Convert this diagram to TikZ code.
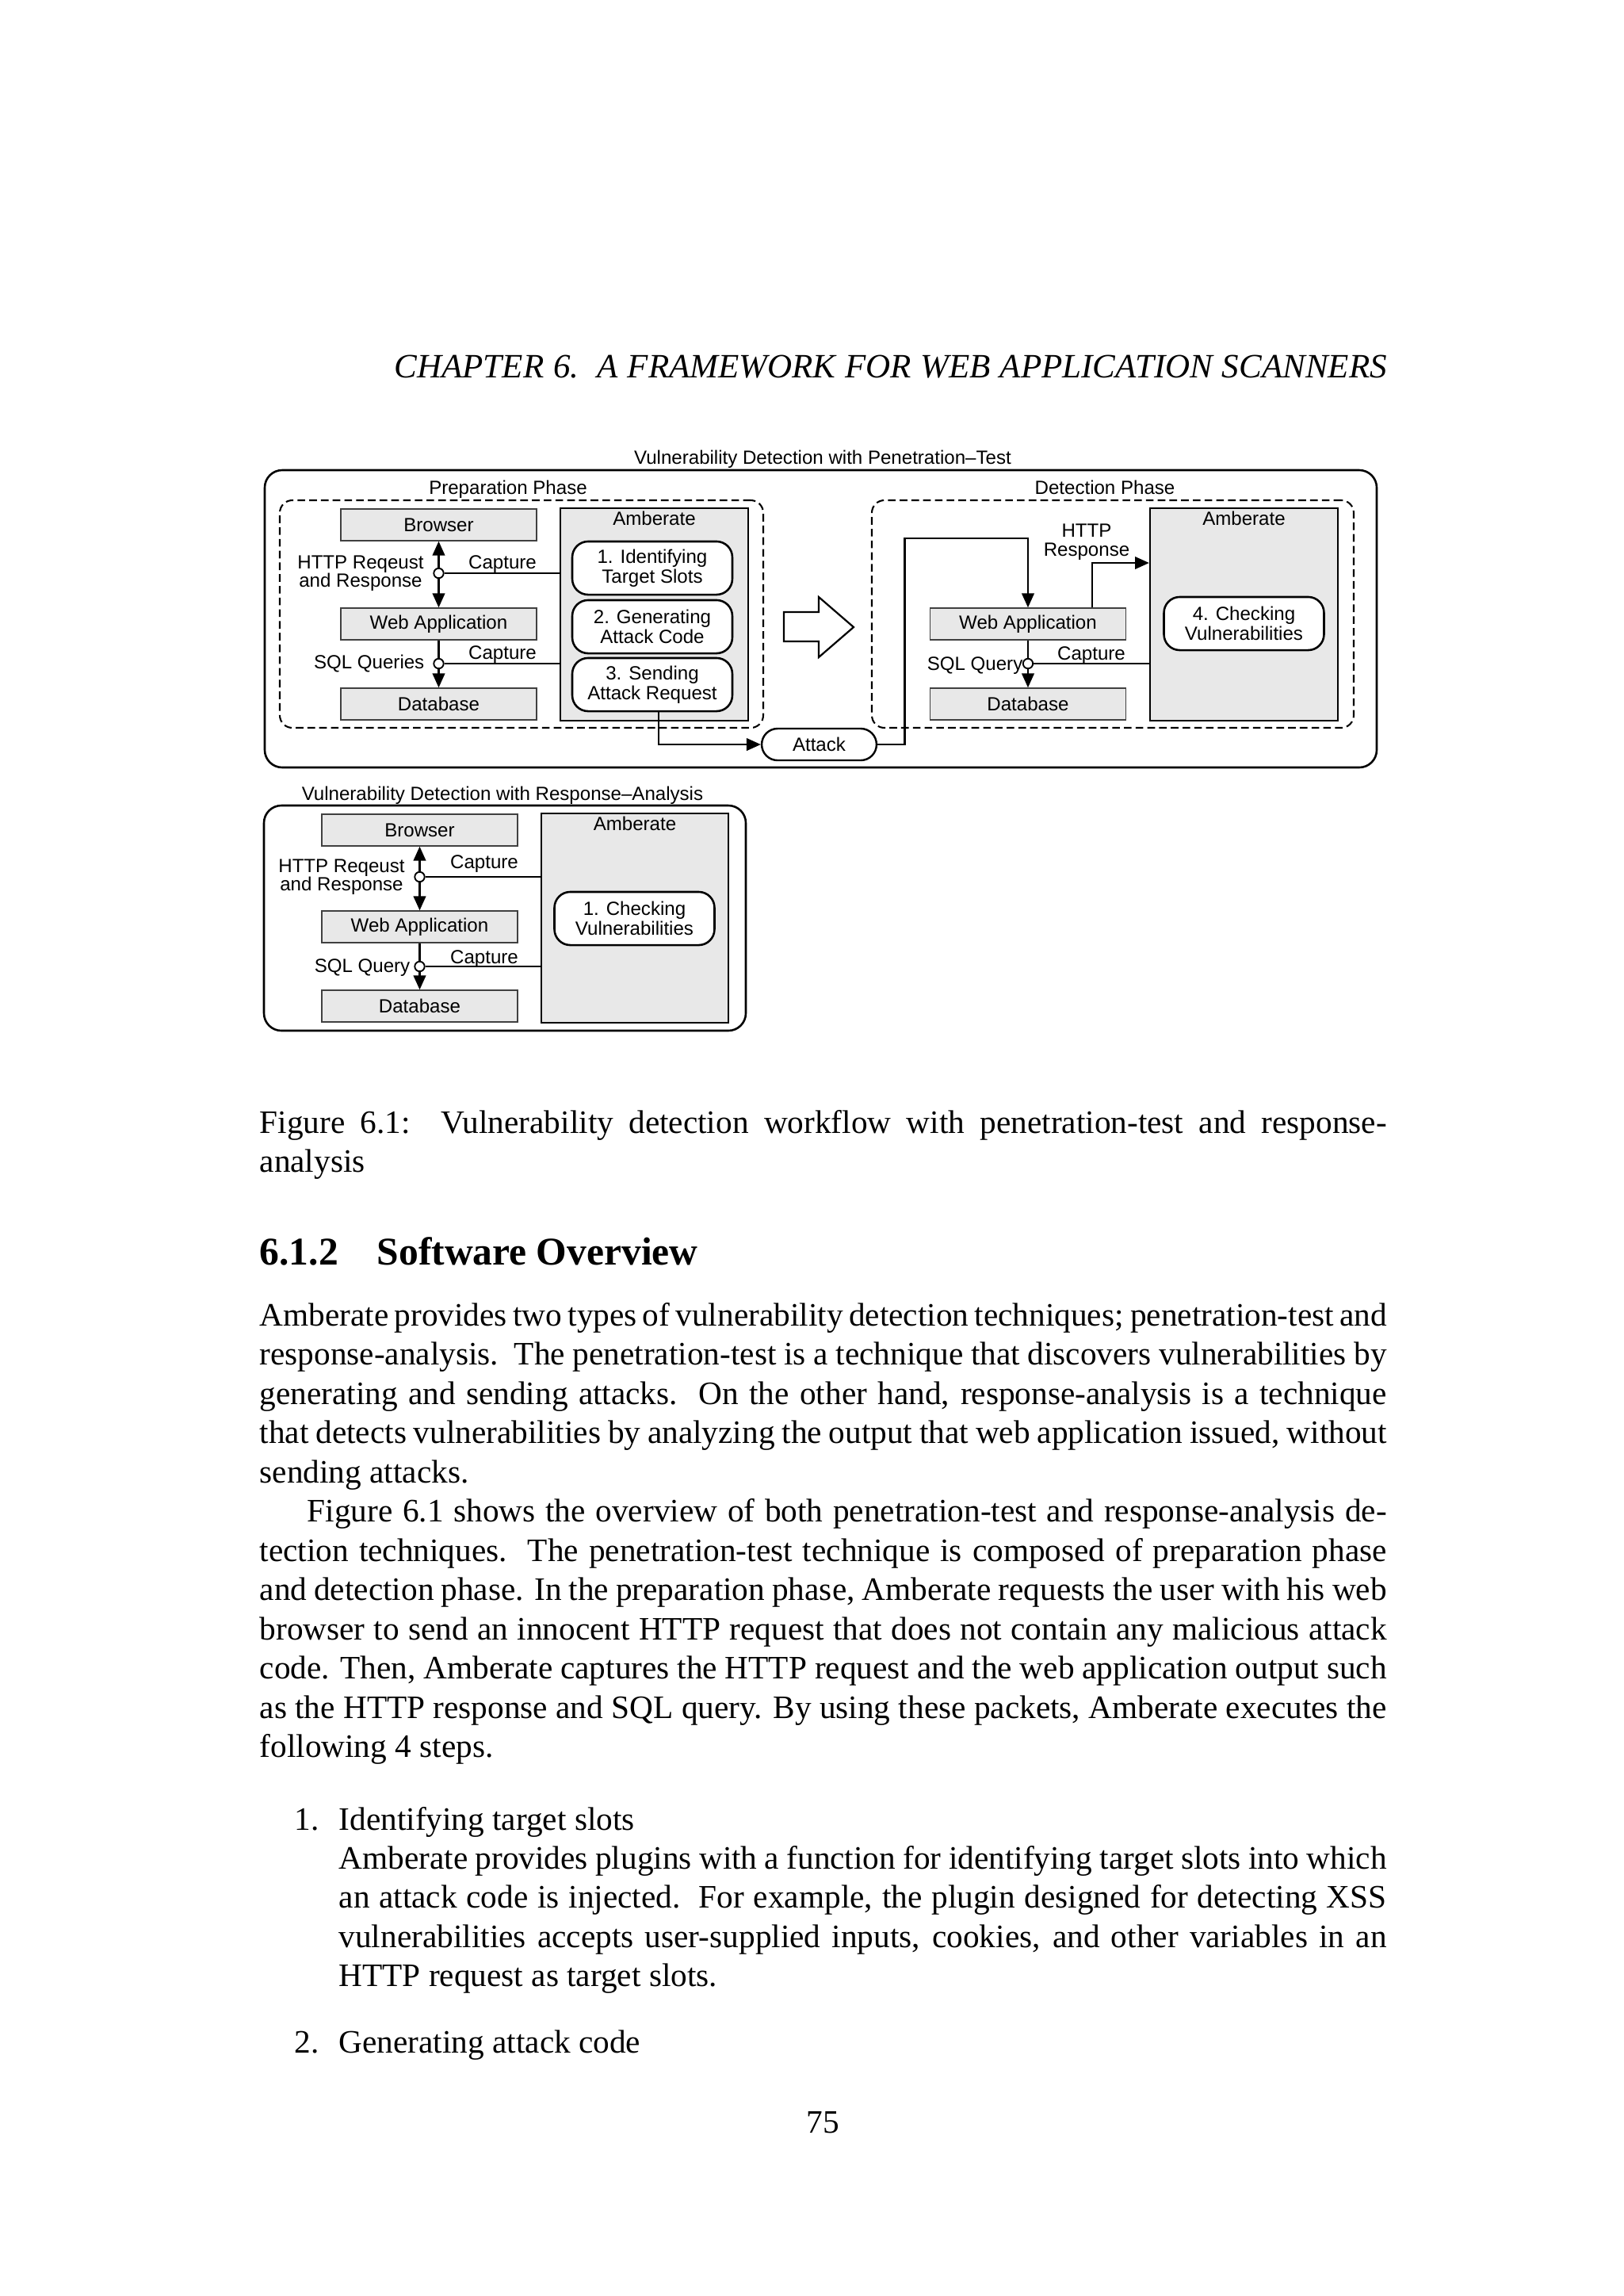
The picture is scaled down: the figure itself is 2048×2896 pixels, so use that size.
\documentclass[tikz,border=0pt]{standalone}
\usepackage{fontspec}
\setmainfont{Liberation Serif}
\newfontfamily\diagfont{Liberation Sans}
\usetikzlibrary{arrows.meta,fit}
\definecolor{boxgray}{RGB}{232,232,232}
\newcommand\myjust[2][413.3pt]{\makebox[#1][s]{#2}}
\begin{document}
\begin{tikzpicture}[x=0.29065pt,y=-0.29065pt,
  >={Triangle[length=5.2pt,width=4.5pt]},
  dg/.style={font=\diagfont\fontsize{7.0}{7.3}\selectfont},
  lbl/.style={dg,inner sep=0},
  gbox/.style={dg,draw=black!75,line width=0.4pt,fill=boxgray,minimum width=71.8pt,minimum height=11.63pt,inner sep=0},
  ambbox/.style={draw=black,line width=0.65pt,fill=boxgray,inner sep=0},
  stepbox/.style={dg,draw=black,line width=0.75pt,fill=white,rounded corners=5.8pt,minimum width=58.7pt,minimum height=19.5pt,align=center,inner sep=0},
  conn/.style={line width=0.7pt},
  tap/.style={circle,draw=black,fill=white,line width=0.55pt,minimum size=3.6pt,inner sep=0},
  outerbox/.style={draw=black,line width=0.75pt,rounded corners=6.4pt,inner sep=0},
  phasebox/.style={draw=black,line width=0.6pt,dash pattern=on 2.8pt off 1.5pt,rounded corners=4.6pt,inner sep=0},
  body/.style={font=\fontsize{12}{14.5}\selectfont,inner sep=0,anchor=base west},
  attackbox/.style={dg,draw=black,line width=0.7pt,fill=white,rounded corners=5.8pt,minimum width=42.1pt,minimum height=11.63pt,inner sep=0}
]
\useasboundingbox (0,0) rectangle (2048,2896);
\fill[white] (0,0) rectangle (2048,2896);

% ---------- header ----------
\node[body] (header) at (497,476) {\myjust[363.9pt]{\fontsize{12.5}{14.5}\selectfont\itshape CHAPTER 6.\ \ A FRAMEWORK FOR WEB APPLICATION SCANNERS}};

% ---------- top diagram ----------
\node[lbl,anchor=base] (titleA) at (1038,585) {Vulnerability Detection with Penetration–Test};
\node[outerbox,fit={(334,593) (1737,968)}] (outerA) {};
\node[phasebox,fit={(353,631) (963,918)}] (prep) {};
\node[lbl,anchor=base] (prepl) at (641,623) {Preparation Phase};
\node[phasebox,fit={(1100,631) (1708,918)}] (det) {};
\node[lbl,anchor=base] (detl) at (1394,623) {Detection Phase};

\node[gbox] (browserA) at (553.5,662) {Browser};
\node[gbox] (webA) at (553.5,787) {Web Application};
\node[gbox] (dbA) at (553.5,888) {Database};
\node[ambbox,fit={(707,641) (944,909)}] (ambA) {};
\node[lbl,anchor=base] (ambAl) at (825.5,662) {Amberate};
\node[stepbox] (s1) at (823,716.5) {1. Identifying\\Target Slots};
\node[stepbox] (s2) at (823,790.5) {2. Generating\\Attack Code};
\node[stepbox] (s3) at (823,863.5) {3. Sending\\Attack Request};

\draw[conn,<->] (browserA) -- (webA);
\draw[conn,->] (webA) -- (dbA);
\node[tap] (tapA1) at (553.5,723) {};
\draw[conn] (tapA1) -- (tapA1 -| ambA.west);
\node[lbl,anchor=base] (capA1) at (634,717) {Capture};
\node[lbl,anchor=base] (hrA1) at (455,717) {HTTP Reqeust};
\node[lbl,anchor=base] (hrA2) at (455,740) {and Response};
\node[tap] (tapA2) at (553.5,837) {};
\draw[conn] (tapA2) -- (tapA2 -| ambA.west);
\node[lbl,anchor=base] (capA2) at (634,831) {Capture};
\node[lbl,anchor=base east] (sqlA) at (536,843) {SQL Queries};

\node[attackbox] (attack) at (1033.5,939) {Attack};
\draw[conn,->] ([xshift=2.3pt]s3.south) |- (attack.west);

\draw[line width=0.65pt,fill=white] (989,772) -- (1033,772) -- (1033,753) -- (1077,791) -- (1033,829) -- (1033,809) -- (989,809) -- cycle;

\node[gbox] (webB) at (1297,787) {Web Application};
\node[gbox] (dbB) at (1297,888) {Database};
\node[ambbox,fit={(1451,641) (1688,909)}] (ambB) {};
\node[lbl,anchor=base] (ambBl) at (1569.5,662) {Amberate};
\node[stepbox] (s4) at (1569.5,786.5) {4. Checking\\Vulnerabilities};
\draw[conn,->] (webB) -- (dbB);
\node[tap] (tapB) at (1297,837) {};
\draw[conn] (tapB) -- (tapB -| ambB.west);
\node[lbl,anchor=base] (capB) at (1377,832) {Capture};
\node[lbl,anchor=base east] (sqlB) at (1291,845) {SQL Query};
\coordinate (bendA) at (1141.5,679);
\draw[conn,->] (attack.east) -| (bendA) -| (webB.north);
\coordinate (resp) at (1378,710);
\draw[conn,->] (webB.north -| resp) |- (resp -| ambB.west);
\node[lbl,anchor=base] (httpB1) at (1371,677) {HTTP};
\node[lbl,anchor=base] (httpB2) at (1371,701) {Response};

% ---------- bottom diagram ----------
\node[lbl,anchor=base] (titleC) at (634,1009) {Vulnerability Detection with Response–Analysis};
\node[outerbox,fit={(333,1016) (941,1300)}] (outerC) {};
\node[gbox] (browserC) at (529.5,1047) {Browser};
\node[gbox] (webC) at (529.5,1169) {Web Application};
\node[gbox] (dbC) at (529.5,1269) {Database};
\node[ambbox,fit={(682.7,1026) (919,1290)}] (ambC) {};
\node[lbl,anchor=base] (ambCl) at (801,1047) {Amberate};
\node[stepbox] (s5) at (800.5,1158.5) {1. Checking\\Vulnerabilities};
\draw[conn,<->] (browserC) -- (webC);
\draw[conn,->] (webC) -- (dbC);
\node[tap] (tapC1) at (529.5,1106) {};
\draw[conn] (tapC1) -- (tapC1 -| ambC.west);
\node[lbl,anchor=base] (capC1) at (611,1095) {Capture};
\node[lbl,anchor=base] (hrC1) at (431,1100) {HTTP Reqeust};
\node[lbl,anchor=base] (hrC2) at (431,1123) {and Response};
\node[tap] (tapC2) at (529.5,1219) {};
\draw[conn] (tapC2) -- (tapC2 -| ambC.west);
\node[lbl,anchor=base] (capC2) at (611,1215) {Capture};
\node[lbl,anchor=base east] (sqlC) at (518,1226) {SQL Query};

% ---------- caption ----------
\node[body] (cap1) at (327,1429) {\myjust{Figure 6.1:\ \ Vulnerability detection workflow with penetration-test and response-}};
\node[body] (cap2) at (327,1478) {analysis};

% ---------- section heading ----------
\node[body,font=\fontsize{14.4}{17}\selectfont\bfseries] (secnum) at (327,1595) {6.1.2};
\node[body,font=\fontsize{14.4}{17}\selectfont\bfseries] (sectitle) at (475,1595) {Software Overview};

% ---------- paragraphs ----------
\node[body] (p1) at (327,1672) {\myjust{Amberate provides two types of vulnerability detection techniques; penetration-test and}};
\node[body] (p2) at (327,1721.5) {\myjust{response-analysis.\ \ The penetration-test is a technique that discovers vulnerabilities by}};
\node[body] (p3) at (327,1771) {\myjust{generating and sending attacks.\ \ On the other hand, response-analysis is a technique}};
\node[body] (p4) at (327,1820.5) {\myjust{that detects vulnerabilities by analyzing the output that web application issued, without}};
\node[body] (p5) at (327,1870) {sending attacks.};
\node[body] (p6) at (387,1919.5) {\myjust[395.9pt]{Figure 6.1 shows the overview of both penetration-test and response-analysis de-}};
\node[body] (p7) at (327,1969) {\myjust{tection techniques.\ \ The penetration-test technique is composed of preparation phase}};
\node[body] (p8) at (327,2018.5) {\myjust{and detection phase. In the preparation phase, Amberate requests the user with his web}};
\node[body] (p9) at (327,2068) {\myjust{browser to send an innocent HTTP request that does not contain any malicious attack}};
\node[body] (p10) at (327,2117.5) {\myjust{code. Then, Amberate captures the HTTP request and the web application output such}};
\node[body] (p11) at (327,2167) {\myjust{as the HTTP response and SQL query. By using these packets, Amberate executes the}};
\node[body] (p12) at (327,2216.5) {following 4 steps.};

% ---------- list ----------
\node[body,anchor=base east] (n1) at (403.5,2308) {1.};
\node[body] (l1) at (427,2308) {Identifying target slots};
\node[body] (l2) at (427,2357) {\myjust[384.2pt]{Amberate provides plugins with a function for identifying target slots into which}};
\node[body] (l3) at (427,2406.5) {\myjust[384.2pt]{an attack code is injected.\ \ For example, the plugin designed for detecting XSS}};
\node[body] (l4) at (427,2456) {\myjust[384.2pt]{vulnerabilities accepts user-supplied inputs, cookies, and other variables in an}};
\node[body] (l5) at (427,2505.5) {HTTP request as target slots.};
\node[body,anchor=base east] (n2) at (403.5,2589) {2.};
\node[body] (l6) at (427,2589) {Generating attack code};

% ---------- page number ----------
\node[body,anchor=base] (pagenum) at (1038,2690) {75};
\end{tikzpicture}
\end{document}
